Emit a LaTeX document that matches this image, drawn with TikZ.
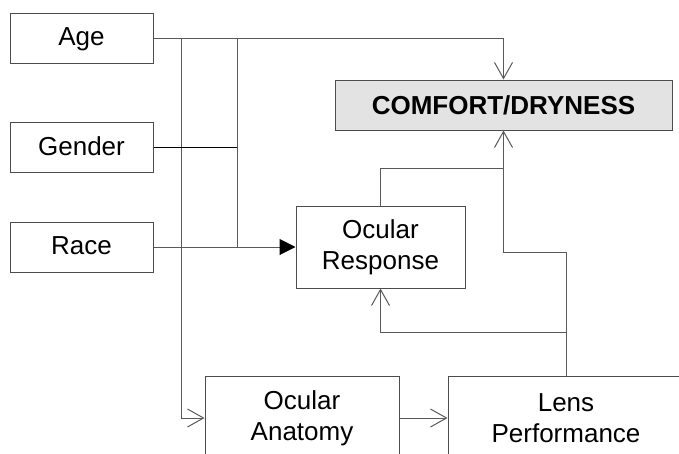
\documentclass[tikz,border=0pt]{standalone}
\usepackage{fontspec}
\setmainfont{Liberation Sans}
\usetikzlibrary{arrows.meta}
\begin{document}
\begin{tikzpicture}[x=1pt,y=-1pt,
  box/.style={draw=black!70,line width=1pt,inner sep=0pt,align=center,
    font=\fontsize{26}{31}\selectfont},
  conn/.style={draw=black!65,line width=1pt},
  openarr/.style={conn,-{Straight Barb[length=16pt,width=18pt,line width=1pt]}},
  fillarr/.style={conn,-{Triangle[length=16pt,width=16pt,fill=black,color=black]}}]
\useasboundingbox (0,0) rectangle (679,453);
\clip (0,0) rectangle (679,453);
\node[box,minimum width=143pt,minimum height=50pt,text depth=2pt] (age) at (81.5,38) {Age};
\node[box,minimum width=143pt,minimum height=50pt,text depth=2pt] (gender) at (81.5,147) {Gender};
\node[box,minimum width=143pt,minimum height=50pt,text depth=2pt] (race) at (81.5,247) {Race};
\node[box,fill=black!11,minimum width=337pt,minimum height=50pt,font=\fontsize{26}{31}\selectfont\bfseries] (comfort) at (503.5,105) {COMFORT/DRYNESS};
\node[box,minimum width=169pt,minimum height=82pt] (resp) at (380.5,247) {Ocular\\Response};
\node[box,minimum width=194pt,minimum height=84pt] (anat) at (302,418) {Ocular\\Anatomy};
\node[box,minimum width=236pt,minimum height=84pt] (lens) at (566,418) {Lens\\Performance};
\coordinate (j1) at (181,38);
\coordinate (j2) at (237,38);
\coordinate (j3) at (237,247);
\coordinate (k1) at (503.5,168);
\coordinate (k2) at (503.5,252);
\coordinate (k3) at (566,332);
\draw[openarr] (age.east) -| (comfort.north);
\draw[openarr] (j1) |- (anat.west);
\draw[conn] (j2) -- (j3);
\draw[conn,draw=black] (gender.east) -- (gender.east -| j2);
\draw[fillarr] (race.east) -- (resp.west);
\draw[openarr] (resp.north) |- (k1) -- (comfort.south);
\draw[conn] (k1) -- (k2) -| (lens.north);
\draw[openarr] (k3) -| (resp.south);
\draw[openarr] (anat.east) -- (lens.west);
\end{tikzpicture}
\end{document}
